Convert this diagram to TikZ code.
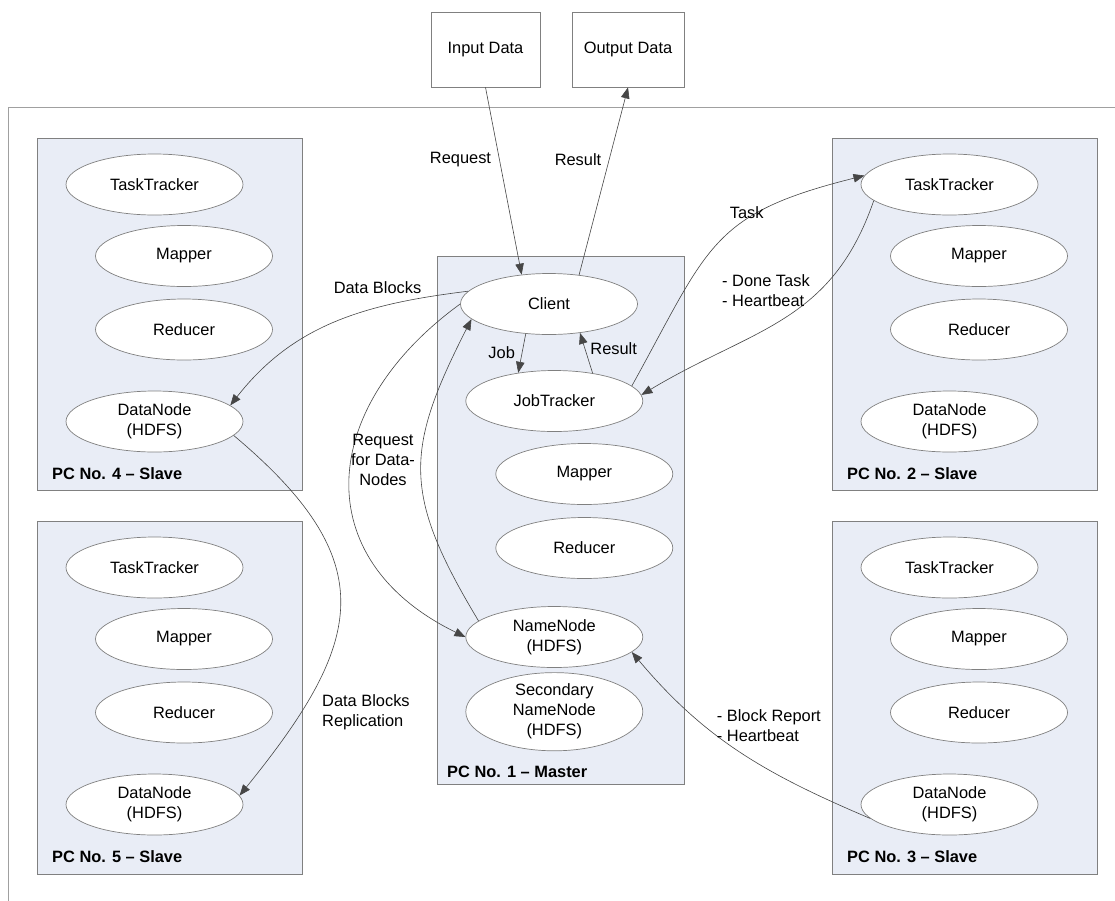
\documentclass[tikz,border=0pt]{standalone}
\usepackage{fontspec}
\setmainfont{Liberation Sans}
\usetikzlibrary{arrows.meta,shapes.geometric}
\definecolor{boxfill}{RGB}{233,237,246}
\definecolor{boxline}{RGB}{128,128,128}
\definecolor{lineclr}{RGB}{70,70,70}
\definecolor{frameclr}{RGB}{160,160,160}
\begin{document}
\begin{tikzpicture}[x=1pt,y=-1pt,
  every node/.style={font=\fontsize{16.4}{20}\selectfont},
  pcbox/.style={draw=boxline, fill=boxfill, line width=0.8pt, inner sep=0pt},
  proc/.style={ellipse, draw=boxline, fill=white, line width=0.7pt, minimum width=177pt, minimum height=61pt, inner sep=0pt, align=center},
  databox/.style={draw=boxline, fill=white, line width=0.8pt, inner sep=0pt},
  pclabel/.style={anchor=west, inner sep=0pt, font=\fontsize{16.4}{20}\selectfont\bfseries},
  conn/.style={draw=lineclr, line width=0.6pt, -{Triangle[length=11pt,width=8.5pt]}},
  lbl/.style={inner sep=0pt, align=left},
  frame/.style={draw=frameclr, line width=1pt}
]
\useasboundingbox (0,0) rectangle (1115,900);
\fill[white] (0,0) rectangle (1115,900);

% outer frame
\coordinate (fa) at (8,905);
\coordinate (fb) at (8,107);
\coordinate (fc) at (1120,107);
\draw[frame] (fa) -- (fb) -- (fc);

% data boxes
\node[databox, minimum width=109pt, minimum height=75pt] (inp) at (485.5,49.5) {Input Data};
\node[databox, minimum width=112pt, minimum height=75pt] (outp) at (628,49.5) {Output Data};

% PC boxes
\node[pcbox, minimum width=265pt, minimum height=352pt] (pc4) at (169.5,314) {};
\node[pcbox, minimum width=265pt, minimum height=353pt] (pc5) at (169.5,697.5) {};
\node[pcbox, minimum width=265pt, minimum height=352pt] (pc2) at (964.5,314) {};
\node[pcbox, minimum width=265pt, minimum height=353pt] (pc3) at (964.5,697.5) {};
\node[pcbox, minimum width=247pt, minimum height=528pt] (pc1) at (560.5,520) {};

% PC 4
\node[proc] (tt4) at (154.5,184.5) {TaskTracker};
\node[proc] (m4) at (184,256) {Mapper};
\node[proc] (r4) at (184,329.5) {Reducer};
\node[proc] (dn4) at (154.5,421.5) {DataNode\\(HDFS)};
\node[pclabel] (l4) at (52,473.5) {PC No. 4 – Slave};

% PC 5
\node[proc] (tt5) at (154.5,567.5) {TaskTracker};
\node[proc] (m5) at (184,639) {Mapper};
\node[proc] (r5) at (184,712.5) {Reducer};
\node[proc] (dn5) at (154.5,804.5) {DataNode\\(HDFS)};
\node[pclabel] (l5) at (52,856.5) {PC No. 5 – Slave};

% PC 2
\node[proc] (tt2) at (949.5,184.5) {TaskTracker};
\node[proc] (m2) at (979,256) {Mapper};
\node[proc] (r2) at (979,329.5) {Reducer};
\node[proc] (dn2) at (949.5,421.5) {DataNode\\(HDFS)};
\node[pclabel] (l2) at (847,473.5) {PC No. 2 – Slave};

% PC 3
\node[proc] (tt3) at (949.5,567.5) {TaskTracker};
\node[proc] (m3) at (979,639) {Mapper};
\node[proc] (r3) at (979,712.5) {Reducer};
\node[proc] (dn3) at (949.5,804.5) {DataNode\\(HDFS)};
\node[pclabel] (l3) at (847,856.5) {PC No. 3 – Slave};

% PC 1
\node[proc] (client) at (549,304) {Client};
\node[proc] (jt) at (554.3,401) {JobTracker};
\node[proc] (m1) at (584.3,474) {Mapper};
\node[proc] (r1) at (584.3,548) {Reducer};
\node[proc] (nn) at (554.3,637) {NameNode\\(HDFS)};
\node[proc] (snn) at (554.3,711.7) {Secondary\\NameNode\\(HDFS)};
\node[pclabel] (l1) at (447,772) {PC No. 1 – Master};

% connectors
\draw[conn] (inp.south) -- (client.133);
\draw[conn] (client.44) -- (outp.south);
\draw[conn] (client.232) -- (jt.142);
\draw[conn] (jt.36) -- (client.317);
\draw[conn] (client.171) to[out=187,in=52] (dn4.12);
\draw[conn] (client.180) to[out=216,in=154,looseness=1.35] (nn.180);
\draw[conn] (nn.168) to[out=121,in=243,looseness=1.25] (client.191);
\draw[conn] (jt.11) to[out=61,in=194,looseness=1.3] (tt2.174);
\draw[conn] (tt2.192) to[out=251,in=31,looseness=1.1] (jt.4);
\draw[conn] (dn4.350) to[out=-40,in=51,looseness=1.4] (dn5.6);
\draw[conn] (dn3.190) to[out=157,in=-50] (nn.349);

% connector labels
\node[lbl] (t1) at (460.5,160) {Request};
\node[lbl] (t2) at (578,160) {Result};
\node[lbl] (t3) at (501.7,353) {Job};
\node[lbl] (t4) at (613.7,349) {Result};
\node[lbl] (t5) at (377.5,288) {Data Blocks};
\node[lbl] (t6) at (746.7,213) {Task};
\node[lbl, anchor=west] (t7) at (722,290.7) {- Done Task\\- Heartbeat};
\node[inner sep=0pt, align=center] (t8) at (383,459.5) {Request\\for Data-\\Nodes};
\node[lbl, anchor=west] (t9) at (322,712.5) {Data Blocks\\Replication};
\node[lbl, anchor=west] (t10) at (716.7,726) {- Block Report\\- Heartbeat};
\end{tikzpicture}
\end{document}
